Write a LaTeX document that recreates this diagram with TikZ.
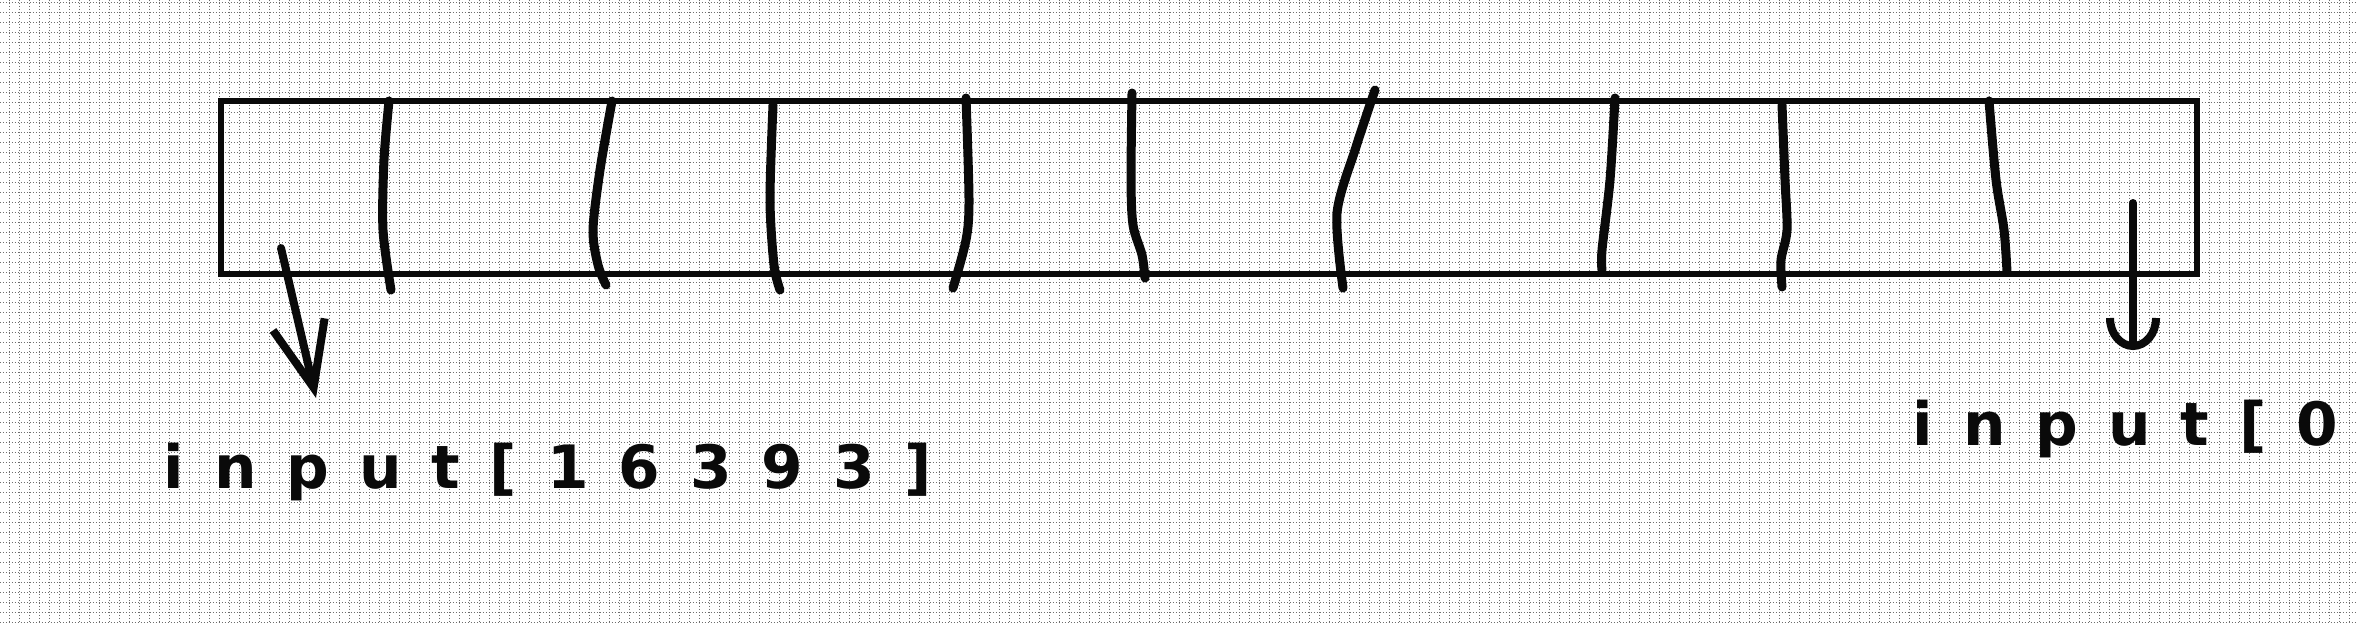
\documentclass[tikz,border=0pt]{standalone}
\usepackage{fontspec}
\newfontfamily\handfont[LetterSpace=50]{DejaVu Sans}
\definecolor{gridgray}{RGB}{110,110,110}
\definecolor{inkblack}{RGB}{10,10,10}
\usetikzlibrary{arrows.meta}

\begin{document}
\begin{tikzpicture}[x=0.1mm,y=-0.1mm,
  gridline/.style={gridgray,line width=0.1mm,dash pattern=on 0.1mm off 0.2mm},
  cellline/.style={inkblack,line width=0.9mm,line cap=round},
  handarrow/.style={inkblack,line width=0.8mm,line cap=round},
  handlabel/.style={inkblack,font=\handfont\bfseries\fontsize{17}{20}\selectfont,inner sep=0pt,anchor=base west}]
\useasboundingbox (0,0) rectangle (2357,623);
\clip (0,0) rectangle (2357,623);
\fill[white] (0,0) rectangle (2357,623);
% squared paper
\foreach \gx in {9.5,19.5,...,2359.5} \draw[gridline] (\gx,0) -- (\gx,623);
\foreach \gy in {2,12,...,622} \draw[gridline] (0,\gy) -- (2357,\gy);
% the array
\draw[inkblack,line width=0.6mm] (221,101) rectangle (2197,274);
\draw[cellline] plot[smooth] coordinates {(389,101) (384,160) (383,230) (391,290)};
\draw[cellline] plot[smooth] coordinates {(612,101) (600,170) (593,230) (598,265) (606,285)};
\draw[cellline] plot[smooth] coordinates {(773,105) (770,200) (774,265) (780,290)};
\draw[cellline] plot[smooth] coordinates {(966,98) (969,200) (966,240) (953,288)};
\draw[cellline] plot[smooth] coordinates {(1132,93) (1131,180) (1133,225) (1142,255) (1145,278)};
\draw[cellline] plot[smooth] coordinates {(1375,90) (1356,147) (1337,213) (1343,288)};
\draw[cellline] plot[smooth] coordinates {(1615,98) (1610,180) (1602,250) (1602,270)};
\draw[cellline] plot[smooth] coordinates {(1782,105) (1785,180) (1787,230) (1781,260) (1782,287)};
\draw[cellline] plot[smooth] coordinates {(1989,101) (1996,180) (2004,230) (2007,272)};
% labels
\node[handlabel] (first) at (163,488) {input[16393]};
\node[handlabel] (last) at (1912,445) {input[0]};
\coordinate (firstsrc) at (281,248);
\coordinate (firsttip) at (316,398);
\coordinate (lastsrc) at (2133,203);
\coordinate (lasttip) at (2133,350);
\draw[handarrow,-{Straight Barb[length=6.5mm,width=5.3mm]}] (firstsrc) -- (firsttip);
\draw[handarrow,-{Arc Barb[length=3.2mm,width=5.4mm]}] (lastsrc) -- (lasttip);
\end{tikzpicture}
\end{document}
